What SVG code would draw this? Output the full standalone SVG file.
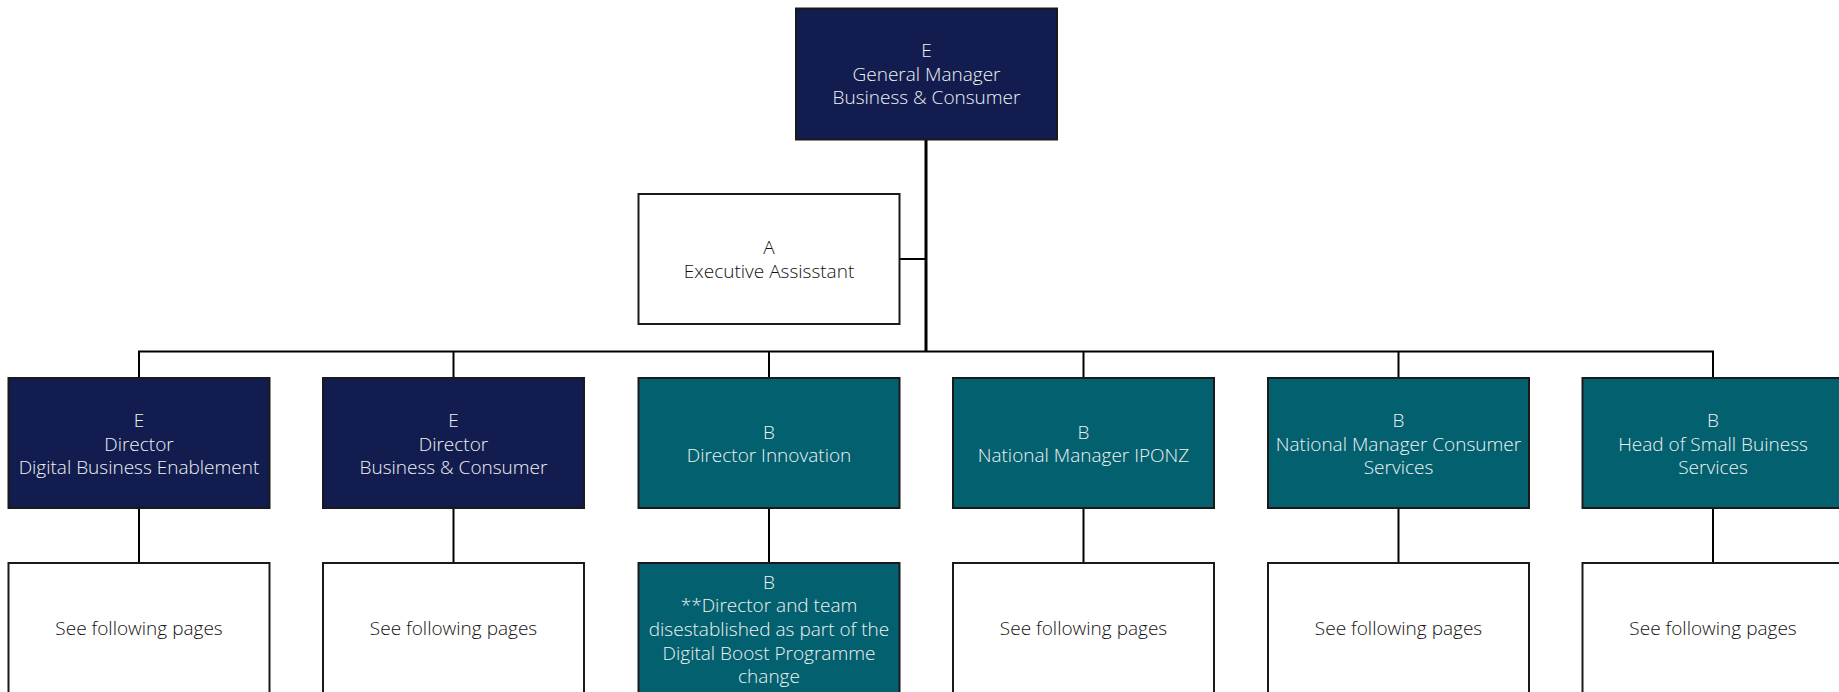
<svg xmlns="http://www.w3.org/2000/svg" width="1839" height="692" viewBox="0 0 1839 692">
  <style>
    .navy { fill: #131c4e; stroke: #1a1a1a; stroke-width: 2; }
    .teal { fill: #03606e; stroke: #1a1a1a; stroke-width: 2; }
    .plain { fill: #ffffff; stroke: #1a1a1a; stroke-width: 2; }
    text { font-family: "Open Sans", "Liberation Sans", sans-serif; font-weight: 300; font-size: 19px; text-anchor: middle; }
    .lt { fill: #eef2f4; }
    .dk { fill: #111111; }
    .wire { fill: none; stroke: #000000; stroke-width: 2; }
    .trunk { fill: none; stroke: #000000; stroke-width: 3; }
  </style>
  <rect width="1839" height="692" fill="#ffffff"/>

  <!-- reporting lines -->
  <g id="connectors">
    <line class="trunk" x1="926" y1="139" x2="926" y2="352"/>
    <line class="wire" x1="899" y1="259" x2="926" y2="259"/>
    <polyline class="wire" points="139,378 139,351.5 1713,351.5 1713,378"/>
    <line class="wire" x1="453.5" y1="351.5" x2="453.5" y2="378"/>
    <line class="wire" x1="769" y1="351.5" x2="769" y2="378"/>
    <line class="wire" x1="1083.5" y1="351.5" x2="1083.5" y2="378"/>
    <line class="wire" x1="1398.5" y1="351.5" x2="1398.5" y2="378"/>
    <line class="wire" x1="139" y1="508" x2="139" y2="563"/>
    <line class="wire" x1="453.5" y1="508" x2="453.5" y2="563"/>
    <line class="wire" x1="769" y1="508" x2="769" y2="563"/>
    <line class="wire" x1="1083.5" y1="508" x2="1083.5" y2="563"/>
    <line class="wire" x1="1398.5" y1="508" x2="1398.5" y2="563"/>
    <line class="wire" x1="1713" y1="508" x2="1713" y2="563"/>
  </g>

  <!-- top level -->
  <g id="gm">
    <rect class="navy" x="796" y="8.5" width="261" height="131"/>
    <text class="lt" x="926.5" y="56.5">E</text>
    <text class="lt" x="926.5" y="80.5">General Manager</text>
    <text class="lt" x="926.5" y="104">Business &amp; Consumer</text>
  </g>

  <g id="ea">
    <rect class="plain" x="638.5" y="194" width="261" height="130"/>
    <text class="dk" x="769" y="254">A</text>
    <text class="dk" x="769" y="277.5">Executive Assisstant</text>
  </g>

  <!-- second level -->
  <g id="dir-dbe">
    <rect class="navy" x="8.5" y="378" width="261" height="130"/>
    <text class="lt" x="139" y="426.5">E</text>
    <text class="lt" x="139" y="450.5">Director</text>
    <text class="lt" x="139" y="474">Digital Business Enablement</text>
  </g>

  <g id="dir-bc">
    <rect class="navy" x="323" y="378" width="261" height="130"/>
    <text class="lt" x="453.5" y="426.5">E</text>
    <text class="lt" x="453.5" y="450.5">Director</text>
    <text class="lt" x="453.5" y="474">Business &amp; Consumer</text>
  </g>

  <g id="dir-innov">
    <rect class="teal" x="638.5" y="378" width="261" height="130"/>
    <text class="lt" x="769" y="438.5">B</text>
    <text class="lt" x="769" y="462">Director Innovation</text>
  </g>

  <g id="nm-iponz">
    <rect class="teal" x="953" y="378" width="261" height="130"/>
    <text class="lt" x="1083.5" y="438.5">B</text>
    <text class="lt" x="1083.5" y="462">National Manager IPONZ</text>
  </g>

  <g id="nm-consumer">
    <rect class="teal" x="1268" y="378" width="261" height="130"/>
    <text class="lt" x="1398.5" y="426.5">B</text>
    <text class="lt" x="1398.5" y="450.5">National Manager Consumer</text>
    <text class="lt" x="1398.5" y="474">Services</text>
  </g>

  <g id="head-sbs">
    <rect class="teal" x="1582.5" y="378" width="261" height="130"/>
    <text class="lt" x="1713" y="426.5">B</text>
    <text class="lt" x="1713" y="450.5">Head of Small Buiness</text>
    <text class="lt" x="1713" y="474">Services</text>
  </g>

  <!-- third level -->
  <g id="team-dbe">
    <rect class="plain" x="8.5" y="563" width="261" height="140"/>
    <text class="dk" x="139" y="635">See following pages</text>
  </g>

  <g id="team-bc">
    <rect class="plain" x="323" y="563" width="261" height="140"/>
    <text class="dk" x="453.5" y="635">See following pages</text>
  </g>

  <g id="team-innov">
    <rect class="teal" x="638.5" y="563" width="261" height="140"/>
    <text class="lt" x="769" y="588.5">B</text>
    <text class="lt" x="769" y="612">**Director and team</text>
    <text class="lt" x="769" y="635.5">disestablished as part of the</text>
    <text class="lt" x="769" y="659.5">Digital Boost Programme</text>
    <text class="lt" x="769" y="683">change</text>
  </g>

  <g id="team-iponz">
    <rect class="plain" x="953" y="563" width="261" height="140"/>
    <text class="dk" x="1083.5" y="635">See following pages</text>
  </g>

  <g id="team-consumer">
    <rect class="plain" x="1268" y="563" width="261" height="140"/>
    <text class="dk" x="1398.5" y="635">See following pages</text>
  </g>

  <g id="team-sbs">
    <rect class="plain" x="1582.5" y="563" width="261" height="140"/>
    <text class="dk" x="1713" y="635">See following pages</text>
  </g>
</svg>
